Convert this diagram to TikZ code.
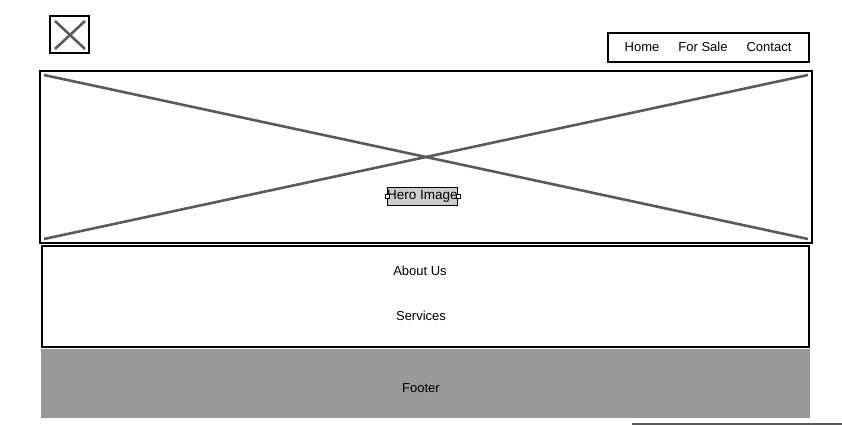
\documentclass[tikz,border=0pt]{standalone}
\usepackage{fontspec}
\setmainfont{Liberation Sans}
\definecolor{xgray}{HTML}{5A5A5A}
\definecolor{footgray}{HTML}{999999}
\definecolor{labgray}{HTML}{CCCCCC}
\tikzset{
  frame/.style={draw=black, line width=2pt},
  cross/.style={draw=xgray, line width=2.6pt},
  txt/.style={font=\fontsize{13}{15}\selectfont, inner sep=0pt},
  handle/.style={draw=black, fill=white, line width=0.5pt, minimum size=4pt, inner sep=0pt}
}
\begin{document}
\begin{tikzpicture}[x=1pt, y=-1pt]
  \useasboundingbox (0,0) rectangle (842,425);
  % logo
  \draw[frame] (50,16) rectangle (89,53);
  \draw[cross] (55,21) -- (85,49);
  \draw[cross] (55,49) -- (85,21);
  % nav
  \draw[frame] (608,33) rectangle (809,62);
  \node (home) [txt] at (642,47) {Home};
  \node (sale) [txt] at (703,47) {For Sale};
  \node (contact) [txt] at (769,47) {Contact};
  % hero
  \draw[cross] (44,75) -- (808,239);
  \draw[cross] (44,239) -- (808,75);
  \draw[frame] (40,71) rectangle (812,243);
  \node (hero) [txt, draw=black, fill=labgray, line width=0.8pt, minimum width=69pt, minimum height=18pt] at (422.5,196.5) {\fontsize{13.5}{15}\selectfont Hero Image};
  \node [handle] at (hero.west) {};
  \node [handle] at (hero.east) {};
  % about
  \draw[frame] (42,246) rectangle (809,347);
  \node (about) [txt] at (420,271) {About Us};
  \node (services) [txt] at (421,316) {Services};
  % footer
  \fill[footgray] (41,349) rectangle (810,418);
  \node (footer) [txt] at (421,388) {Footer};
  \draw[xgray, line width=1.2pt] (632,424) -- (842,424);
\end{tikzpicture}
\end{document}
